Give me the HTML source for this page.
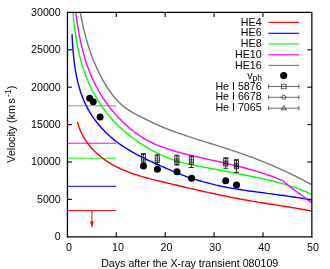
<!DOCTYPE html><html><head><meta charset="utf-8"><style>html,body{margin:0;padding:0;background:#fff}svg{display:block;will-change:transform;opacity:0.999}text{font-family:"Liberation Sans",sans-serif;font-size:10.67px;fill:#000}</style></head><body>
<svg width="330" height="269" viewBox="0 0 330 269">
<rect width="330" height="269" fill="#ffffff"/>
<line x1="67.45" x2="116.1" y1="105.85" y2="105.85" stroke="#909090" stroke-width="1"/>
<line x1="67.45" x2="116.1" y1="143.25" y2="143.25" stroke="#ff00ff" stroke-width="1"/>
<line x1="67.45" x2="116.1" y1="158.20" y2="158.20" stroke="#00ff00" stroke-width="1"/>
<line x1="67.45" x2="116.1" y1="186.30" y2="186.30" stroke="#0000ff" stroke-width="1"/>
<line x1="67.45" x2="116.1" y1="210.60" y2="210.60" stroke="#ff0000" stroke-width="1"/>
<line x1="91.9" x2="91.9" y1="210.6" y2="225.3" stroke="#ff0000" stroke-width="1"/>
<path d="M90.1,221.5 L93.7,221.5 L91.9,228.3 Z" fill="#ff0000"/>
<path d="M77.4,121.8 L77.9,123.8 L78.6,125.8 L79.2,127.8 L80.0,129.7 L80.8,131.5 L81.7,133.4 L82.6,135.2 L83.5,137.0 L84.6,138.7 L85.6,140.4 L86.8,142.0 L87.9,143.6 L89.2,145.2 L90.4,146.7 L91.7,148.2 L93.1,149.7 L94.5,151.1 L95.9,152.5 L97.4,153.9 L98.9,155.2 L100.4,156.5 L102.0,157.7 L103.5,158.9 L105.2,160.1 L106.8,161.2 L108.5,162.3 L110.2,163.3 L111.9,164.3 L113.6,165.3 L115.4,166.2 L117.1,167.2 L118.9,168.0 L120.7,168.9 L122.5,169.7 L124.4,170.5 L126.2,171.2 L128.1,171.9 L130.0,172.6 L131.9,173.3 L133.8,174.0 L135.7,174.6 L137.6,175.2 L139.5,175.8 L141.5,176.4 L143.4,176.9 L145.4,177.5 L147.4,178.0 L149.3,178.6 L151.3,179.1 L153.3,179.6 L155.2,180.1 L157.2,180.6 L159.2,181.0 L161.2,181.5 L163.2,182.0 L165.2,182.5 L167.1,183.0 L169.1,183.4 L171.1,183.9 L173.1,184.4 L175.1,184.8 L177.0,185.3 L179.0,185.8 L181.0,186.3 L183.0,186.7 L184.9,187.2 L186.9,187.6 L188.9,188.1 L190.9,188.6 L192.8,189.0 L194.8,189.5 L196.8,189.9 L198.7,190.4 L200.7,190.8 L202.7,191.3 L204.6,191.7 L206.6,192.1 L208.6,192.6 L210.5,193.0 L212.5,193.4 L214.5,193.8 L216.5,194.3 L218.4,194.7 L220.4,195.1 L222.4,195.5 L224.3,195.9 L226.3,196.3 L228.3,196.7 L230.2,197.1 L232.2,197.5 L234.2,197.9 L236.1,198.2 L238.1,198.6 L240.1,199.0 L242.0,199.3 L244.0,199.7 L246.0,200.0 L248.0,200.4 L249.9,200.7 L251.9,201.1 L253.9,201.4 L255.9,201.7 L257.8,202.1 L259.8,202.4 L261.8,202.7 L263.8,203.0 L265.7,203.3 L267.7,203.7 L269.7,204.0 L271.7,204.3 L273.7,204.6 L275.7,204.9 L277.6,205.2 L279.6,205.5 L281.6,205.9 L283.6,206.2 L285.6,206.5 L287.6,206.8 L289.6,207.1 L291.6,207.5 L293.6,207.8 L295.6,208.1 L297.6,208.5 L299.6,208.8 L301.6,209.2 L303.6,209.5 L305.6,209.9 L307.6,210.3 L309.6,210.6 L311.6,211.0" fill="none" stroke="#ff0000" stroke-width="1.4" stroke-linejoin="round"/>
<path d="M72.0,34.1 L72.1,36.1 L72.2,38.1 L72.3,40.1 L72.4,42.1 L72.6,44.1 L72.7,46.1 L72.9,48.1 L73.0,50.1 L73.2,52.1 L73.4,54.1 L73.6,56.2 L73.8,58.2 L74.0,60.2 L74.2,62.2 L74.5,64.3 L74.8,66.3 L75.1,68.3 L75.4,70.3 L75.8,72.3 L76.1,74.3 L76.5,76.3 L76.9,78.3 L77.4,80.3 L77.8,82.2 L78.3,84.2 L78.9,86.2 L79.4,88.1 L80.0,90.0 L80.6,92.0 L81.3,93.9 L82.0,95.8 L82.7,97.7 L83.4,99.5 L84.2,101.4 L85.1,103.2 L85.9,105.0 L86.8,106.8 L87.8,108.6 L88.7,110.4 L89.8,112.1 L90.8,113.8 L91.9,115.6 L93.0,117.2 L94.2,118.9 L95.4,120.5 L96.6,122.1 L97.9,123.7 L99.2,125.3 L100.5,126.8 L101.9,128.3 L103.3,129.8 L104.7,131.3 L106.1,132.7 L107.6,134.1 L109.0,135.5 L110.5,136.8 L112.1,138.1 L113.6,139.4 L115.2,140.6 L116.7,141.8 L118.3,143.0 L119.9,144.2 L121.6,145.3 L123.2,146.4 L124.9,147.5 L126.6,148.6 L128.3,149.6 L130.0,150.6 L131.7,151.7 L133.4,152.6 L135.2,153.6 L136.9,154.6 L138.7,155.5 L140.5,156.4 L142.3,157.3 L144.1,158.2 L145.9,159.1 L147.7,160.0 L149.5,160.8 L151.4,161.7 L153.2,162.5 L155.0,163.4 L156.9,164.2 L158.8,165.0 L160.6,165.9 L162.5,166.7 L164.4,167.5 L166.2,168.3 L168.1,169.1 L170.0,169.9 L171.9,170.8 L173.8,171.6 L175.7,172.3 L177.6,173.1 L179.5,173.9 L181.4,174.7 L183.3,175.4 L185.2,176.1 L187.1,176.8 L189.0,177.5 L190.9,178.2 L192.9,178.8 L194.8,179.4 L196.7,179.9 L198.6,180.5 L200.6,181.0 L202.5,181.6 L204.4,182.1 L206.4,182.6 L208.3,183.1 L210.3,183.6 L212.2,184.1 L214.2,184.6 L216.1,185.1 L218.1,185.5 L220.0,186.0 L222.0,186.4 L224.0,186.8 L225.9,187.2 L227.9,187.6 L229.9,187.9 L231.8,188.3 L233.8,188.6 L235.8,188.9 L237.7,189.2 L239.7,189.5 L241.7,189.8 L243.7,190.1 L245.7,190.4 L247.6,190.7 L249.6,191.0 L251.6,191.2 L253.6,191.5 L255.6,191.8 L257.6,192.1 L259.6,192.3 L261.6,192.6 L263.6,192.8 L265.5,193.1 L267.5,193.4 L269.5,193.6 L271.5,193.9 L273.5,194.2 L275.5,194.4 L277.5,194.7 L279.5,195.0 L281.5,195.2 L283.5,195.5 L285.5,195.8 L287.5,196.1 L289.5,196.4 L291.6,196.7 L293.6,197.0 L295.6,197.3 L297.6,197.6 L299.6,197.9 L301.6,198.2 L303.6,198.6 L305.6,198.9 L307.6,199.3 L309.6,199.6 L311.6,200.0" fill="none" stroke="#0000ff" stroke-width="1.4" stroke-linejoin="round"/>
<path d="M73.1,12.7 L73.3,14.7 L73.4,16.7 L73.6,18.6 L73.8,20.6 L74.0,22.6 L74.2,24.6 L74.5,26.6 L74.7,28.6 L75.0,30.6 L75.3,32.6 L75.5,34.6 L75.8,36.6 L76.2,38.6 L76.5,40.6 L76.9,42.6 L77.2,44.6 L77.6,46.6 L78.0,48.6 L78.5,50.6 L78.9,52.6 L79.4,54.6 L79.9,56.5 L80.4,58.5 L80.9,60.5 L81.5,62.4 L82.0,64.4 L82.6,66.3 L83.2,68.2 L83.9,70.2 L84.5,72.1 L85.2,74.0 L85.9,75.9 L86.6,77.8 L87.4,79.7 L88.2,81.5 L89.0,83.4 L89.8,85.2 L90.7,87.0 L91.5,88.9 L92.4,90.7 L93.4,92.4 L94.3,94.2 L95.3,96.0 L96.3,97.7 L97.3,99.5 L98.4,101.2 L99.5,102.9 L100.6,104.5 L101.7,106.2 L102.8,107.8 L104.0,109.5 L105.2,111.1 L106.4,112.6 L107.7,114.2 L109.0,115.7 L110.3,117.3 L111.6,118.8 L112.9,120.2 L114.3,121.7 L115.7,123.1 L117.1,124.5 L118.5,125.9 L120.0,127.3 L121.5,128.7 L122.9,130.0 L124.5,131.3 L126.0,132.6 L127.6,133.9 L129.1,135.2 L130.7,136.4 L132.3,137.6 L133.9,138.8 L135.6,140.0 L137.2,141.2 L138.9,142.3 L140.6,143.5 L142.3,144.6 L144.0,145.7 L145.8,146.7 L147.5,147.8 L149.3,148.8 L151.0,149.8 L152.8,150.8 L154.6,151.7 L156.4,152.6 L158.2,153.5 L160.0,154.4 L161.9,155.3 L163.7,156.1 L165.5,156.9 L167.4,157.6 L169.3,158.4 L171.1,159.1 L173.0,159.7 L174.9,160.4 L176.8,161.0 L178.7,161.6 L180.6,162.1 L182.5,162.6 L184.4,163.1 L186.4,163.6 L188.3,164.0 L190.2,164.5 L192.2,164.9 L194.1,165.3 L196.1,165.7 L198.0,166.0 L200.0,166.4 L202.0,166.8 L203.9,167.2 L205.9,167.5 L207.9,167.9 L209.8,168.3 L211.8,168.6 L213.8,169.0 L215.8,169.4 L217.8,169.8 L219.8,170.2 L221.8,170.5 L223.8,170.9 L225.8,171.3 L227.8,171.7 L229.8,172.1 L231.8,172.5 L233.8,172.9 L235.7,173.2 L237.7,173.6 L239.7,174.0 L241.7,174.4 L243.7,174.8 L245.7,175.2 L247.7,175.6 L249.7,176.0 L251.7,176.4 L253.7,176.8 L255.7,177.2 L257.7,177.6 L259.7,178.1 L261.6,178.5 L263.6,178.9 L265.6,179.4 L267.6,179.8 L269.5,180.3 L271.5,180.7 L273.4,181.2 L275.4,181.7 L277.3,182.2 L279.3,182.7 L281.2,183.3 L283.2,183.8 L285.1,184.4 L287.0,185.0 L288.9,185.6 L290.8,186.2 L292.7,186.8 L294.6,187.4 L296.5,188.1 L298.4,188.8 L300.3,189.5 L302.2,190.2 L304.0,191.0 L305.9,191.7 L307.7,192.5 L309.6,193.4 L311.4,194.2" fill="none" stroke="#00ff00" stroke-width="1.4" stroke-linejoin="round"/>
<path d="M75.8,12.7 L76.1,14.7 L76.3,16.7 L76.6,18.7 L76.9,20.7 L77.2,22.7 L77.5,24.6 L77.8,26.6 L78.2,28.6 L78.5,30.6 L78.9,32.6 L79.2,34.6 L79.6,36.6 L80.0,38.6 L80.4,40.5 L80.8,42.5 L81.3,44.5 L81.7,46.5 L82.2,48.4 L82.7,50.4 L83.2,52.3 L83.7,54.3 L84.3,56.2 L84.8,58.2 L85.4,60.1 L86.0,62.0 L86.7,63.9 L87.3,65.8 L88.0,67.7 L88.7,69.6 L89.4,71.5 L90.2,73.4 L90.9,75.2 L91.7,77.1 L92.6,78.9 L93.4,80.7 L94.3,82.6 L95.2,84.4 L96.1,86.2 L97.1,87.9 L98.0,89.7 L99.0,91.5 L100.1,93.2 L101.1,94.9 L102.2,96.6 L103.3,98.3 L104.4,100.0 L105.6,101.7 L106.7,103.3 L107.9,105.0 L109.2,106.6 L110.4,108.2 L111.7,109.7 L112.9,111.3 L114.2,112.9 L115.6,114.4 L116.9,115.9 L118.3,117.4 L119.7,118.8 L121.1,120.3 L122.5,121.7 L124.0,123.1 L125.5,124.5 L126.9,125.8 L128.5,127.2 L130.0,128.5 L131.6,129.7 L133.1,131.0 L134.7,132.2 L136.4,133.4 L138.0,134.5 L139.7,135.7 L141.4,136.8 L143.1,137.8 L144.8,138.9 L146.5,139.9 L148.3,140.8 L150.0,141.7 L151.8,142.6 L153.6,143.5 L155.4,144.3 L157.3,145.1 L159.1,145.8 L161.0,146.6 L162.9,147.3 L164.7,147.9 L166.6,148.6 L168.5,149.2 L170.4,149.8 L172.4,150.4 L174.3,151.0 L176.2,151.6 L178.2,152.1 L180.1,152.6 L182.1,153.2 L184.1,153.7 L186.0,154.2 L188.0,154.6 L190.0,155.1 L192.0,155.6 L193.9,156.1 L195.9,156.5 L197.9,157.0 L199.9,157.4 L201.9,157.9 L203.9,158.3 L205.8,158.8 L207.8,159.2 L209.8,159.6 L211.8,160.1 L213.8,160.5 L215.7,161.0 L217.7,161.4 L219.7,161.8 L221.6,162.3 L223.6,162.7 L225.6,163.2 L227.5,163.6 L229.5,164.1 L231.4,164.6 L233.4,165.0 L235.3,165.5 L237.3,166.0 L239.2,166.5 L241.2,167.0 L243.1,167.5 L245.0,168.0 L247.0,168.5 L248.9,169.1 L250.8,169.6 L252.7,170.2 L254.7,170.7 L256.6,171.3 L258.5,171.9 L260.4,172.5 L262.3,173.1 L264.2,173.7 L266.1,174.4 L268.1,175.0 L270.0,175.7 L271.9,176.4 L273.8,177.1 L275.6,177.8 L277.5,178.6 L279.4,179.3 L281.3,180.1 L283.2,180.9 L284.9,182.4 L286.6,183.9 L288.3,185.3 L290.0,186.7 L291.8,188.1 L293.6,189.5 L295.4,190.8 L297.2,192.1 L299.1,193.4 L300.9,194.7 L302.7,196.0 L304.5,197.4 L306.3,198.7 L308.1,200.1 L309.9,201.5 L311.6,202.9" fill="none" stroke="#ff00ff" stroke-width="1.4" stroke-linejoin="round"/>
<path d="M80.3,12.7 L80.7,14.7 L81.1,16.7 L81.5,18.7 L81.9,20.7 L82.3,22.7 L82.7,24.7 L83.2,26.7 L83.6,28.7 L84.1,30.6 L84.6,32.6 L85.1,34.5 L85.6,36.5 L86.1,38.4 L86.7,40.4 L87.2,42.3 L87.8,44.2 L88.4,46.1 L89.0,48.0 L89.6,49.9 L90.3,51.8 L90.9,53.7 L91.6,55.6 L92.3,57.5 L93.0,59.3 L93.8,61.2 L94.6,63.1 L95.4,64.9 L96.2,66.8 L97.0,68.6 L97.9,70.4 L98.8,72.3 L99.7,74.1 L100.6,75.9 L101.6,77.8 L102.6,79.6 L103.6,81.4 L104.6,83.2 L105.7,85.0 L106.8,86.7 L107.9,88.5 L109.1,90.2 L110.3,91.9 L111.5,93.5 L112.7,95.2 L114.0,96.8 L115.3,98.3 L116.7,99.8 L118.0,101.3 L119.5,102.7 L120.9,104.1 L122.4,105.4 L123.9,106.7 L125.4,107.9 L127.0,109.0 L128.6,110.1 L130.3,111.2 L131.9,112.2 L133.6,113.1 L135.3,114.0 L137.0,114.9 L138.8,115.8 L140.6,116.7 L142.3,117.6 L144.1,118.5 L145.9,119.4 L147.8,120.3 L149.6,121.2 L151.4,122.1 L153.3,123.0 L155.1,123.8 L157.0,124.7 L158.8,125.5 L160.7,126.3 L162.6,127.0 L164.5,127.8 L166.4,128.6 L168.2,129.3 L170.1,130.0 L172.0,130.8 L173.9,131.5 L175.8,132.2 L177.8,132.9 L179.7,133.5 L181.6,134.2 L183.5,134.9 L185.4,135.5 L187.4,136.2 L189.3,136.8 L191.2,137.4 L193.1,138.1 L195.1,138.7 L197.0,139.3 L198.9,139.9 L200.9,140.5 L202.8,141.1 L204.8,141.7 L206.7,142.3 L208.6,142.9 L210.6,143.5 L212.5,144.1 L214.4,144.7 L216.4,145.3 L218.3,145.9 L220.3,146.6 L222.2,147.2 L224.1,147.8 L226.1,148.4 L228.0,149.0 L229.9,149.7 L231.8,150.3 L233.7,150.9 L235.7,151.6 L237.6,152.2 L239.5,152.9 L241.4,153.6 L243.3,154.2 L245.2,154.9 L247.1,155.6 L249.0,156.3 L250.9,157.0 L252.8,157.7 L254.7,158.4 L256.6,159.1 L258.5,159.9 L260.3,160.6 L262.2,161.4 L264.1,162.1 L266.0,162.9 L267.8,163.6 L269.7,164.4 L271.5,165.2 L273.4,166.0 L275.3,166.8 L277.1,167.6 L279.0,168.4 L280.8,169.3 L282.6,170.1 L284.5,170.9 L286.3,171.8 L288.1,172.6 L290.0,173.5 L291.8,174.4 L293.6,175.3 L295.4,176.2 L297.2,177.1 L299.0,178.0 L300.8,178.9 L302.7,179.9 L304.4,180.8 L306.2,181.8 L308.0,182.7 L309.8,183.7 L311.6,184.7" fill="none" stroke="#777777" stroke-width="1.4" stroke-linejoin="round"/>
<g stroke="#000" fill="none">
<line x1="143.4" x2="143.4" y1="153.6" y2="162.8" stroke-width="0.8"/>
<line x1="140.9" x2="145.9" y1="153.6" y2="153.6" stroke-width="0.8"/>
<line x1="140.9" x2="145.9" y1="162.8" y2="162.8" stroke-width="0.8"/>
<rect x="141.3" y="154.4" width="4.2" height="6.7" stroke-width="0.7"/>
<g stroke-opacity="0.35">
<line x1="141.2" x2="145.6" y1="156.6" y2="156.6" stroke-width="0.55"/>
<line x1="141.2" x2="145.6" y1="159.2" y2="159.2" stroke-width="0.45"/>
<circle cx="143.4" cy="158.4" r="2.0" stroke-width="0.5"/>
<path d="M141.2,160.6 L143.4,157.2 L145.6,160.6" stroke-width="0.45"/>
</g></g>
<g stroke="#000" fill="none">
<line x1="157.3" x2="157.3" y1="154.8" y2="164.8" stroke-width="0.8"/>
<line x1="154.8" x2="159.8" y1="154.8" y2="154.8" stroke-width="0.8"/>
<line x1="154.8" x2="159.8" y1="164.8" y2="164.8" stroke-width="0.8"/>
<rect x="155.2" y="155.8" width="4.2" height="6.8" stroke-width="0.7"/>
<g stroke-opacity="0.45">
<line x1="155.1" x2="159.5" y1="158.0" y2="158.0" stroke-width="0.55"/>
<line x1="155.1" x2="159.5" y1="160.7" y2="160.7" stroke-width="0.45"/>
<circle cx="157.3" cy="159.9" r="2.0" stroke-width="0.5"/>
<path d="M155.1,162.1 L157.3,158.7 L159.5,162.1" stroke-width="0.45"/>
</g></g>
<g stroke="#000" fill="none">
<line x1="176.9" x2="176.9" y1="155.3" y2="165.1" stroke-width="0.8"/>
<line x1="174.4" x2="179.4" y1="155.3" y2="155.3" stroke-width="0.8"/>
<line x1="174.4" x2="179.4" y1="165.1" y2="165.1" stroke-width="0.8"/>
<rect x="174.8" y="156.0" width="4.2" height="8.4" stroke-width="0.7"/>
<g stroke-opacity="0.8">
<line x1="174.7" x2="179.1" y1="158.8" y2="158.8" stroke-width="0.55"/>
<line x1="174.7" x2="179.1" y1="162.0" y2="162.0" stroke-width="0.45"/>
<circle cx="176.9" cy="161.0" r="2.0" stroke-width="0.5"/>
<path d="M174.7,163.7 L176.9,159.5 L179.1,163.7" stroke-width="0.45"/>
</g></g>
<g stroke="#000" fill="none">
<line x1="191.3" x2="191.3" y1="156.0" y2="167.5" stroke-width="0.8"/>
<line x1="188.8" x2="193.8" y1="156.0" y2="156.0" stroke-width="0.8"/>
<line x1="188.8" x2="193.8" y1="167.5" y2="167.5" stroke-width="0.8"/>
<rect x="189.2" y="156.9" width="4.2" height="7.5" stroke-width="0.7"/>
<g stroke-opacity="0.7">
<line x1="189.1" x2="193.5" y1="159.4" y2="159.4" stroke-width="0.55"/>
<line x1="189.1" x2="193.5" y1="162.3" y2="162.3" stroke-width="0.45"/>
<circle cx="191.3" cy="161.4" r="2.0" stroke-width="0.5"/>
<path d="M189.1,163.8 L191.3,160.1 L193.5,163.8" stroke-width="0.45"/>
</g></g>
<g stroke="#000" fill="none">
<line x1="225.8" x2="225.8" y1="157.8" y2="168.3" stroke-width="0.8"/>
<line x1="223.3" x2="228.3" y1="157.8" y2="157.8" stroke-width="0.8"/>
<line x1="223.3" x2="228.3" y1="168.3" y2="168.3" stroke-width="0.8"/>
<rect x="223.7" y="158.5" width="4.2" height="7.5" stroke-width="0.7"/>
<g stroke-opacity="1.0">
<line x1="223.6" x2="228.0" y1="161.0" y2="161.0" stroke-width="0.55"/>
<line x1="223.6" x2="228.0" y1="163.9" y2="163.9" stroke-width="0.45"/>
<circle cx="225.8" cy="163.0" r="2.0" stroke-width="0.5"/>
<path d="M223.6,165.4 L225.8,161.7 L228.0,165.4" stroke-width="0.45"/>
</g></g>
<g stroke="#000" fill="none">
<line x1="236.5" x2="236.5" y1="159.6" y2="172.4" stroke-width="0.8"/>
<line x1="234.0" x2="239.0" y1="159.6" y2="159.6" stroke-width="0.8"/>
<line x1="234.0" x2="239.0" y1="172.4" y2="172.4" stroke-width="0.8"/>
<rect x="234.4" y="160.4" width="4.2" height="8.4" stroke-width="0.7"/>
<g stroke-opacity="1.0">
<line x1="234.3" x2="238.7" y1="163.2" y2="163.2" stroke-width="0.55"/>
<line x1="234.3" x2="238.7" y1="166.4" y2="166.4" stroke-width="0.45"/>
<circle cx="236.5" cy="165.4" r="2.0" stroke-width="0.5"/>
<path d="M234.3,168.1 L236.5,163.9 L238.7,168.1" stroke-width="0.45"/>
</g></g>
<circle cx="89.7" cy="98.3" r="3.5" fill="#000"/>
<circle cx="93.2" cy="101.8" r="3.5" fill="#000"/>
<circle cx="100.1" cy="117.0" r="3.5" fill="#000"/>
<circle cx="143.5" cy="165.9" r="3.5" fill="#000"/>
<circle cx="157.4" cy="169.3" r="3.5" fill="#000"/>
<circle cx="177.0" cy="171.8" r="3.5" fill="#000"/>
<circle cx="191.6" cy="178.2" r="3.5" fill="#000"/>
<circle cx="225.7" cy="180.7" r="3.5" fill="#000"/>
<circle cx="236.5" cy="185.1" r="3.5" fill="#000"/>
<path d="M67.45,237.55 L67.45,12.45 L311.85,12.45 L311.85,237.55" fill="none" stroke="#000" stroke-width="1.25" stroke-linejoin="miter"/>
<line x1="66.83" x2="312.47" y1="236.9" y2="236.9" stroke="#000" stroke-width="1.3"/>
<text x="68.95" y="250.7" text-anchor="middle">0</text>
<line x1="116.3" x2="116.3" y1="236.9" y2="232.20000000000002" stroke="#000" stroke-width="1.1"/>
<line x1="116.3" x2="116.3" y1="12.45" y2="16.95" stroke="#000" stroke-width="1.1"/>
<text x="117.93" y="250.7" text-anchor="middle">10</text>
<line x1="165.2" x2="165.2" y1="236.9" y2="232.20000000000002" stroke="#000" stroke-width="1.1"/>
<line x1="165.2" x2="165.2" y1="12.45" y2="16.95" stroke="#000" stroke-width="1.1"/>
<text x="166.41" y="250.7" text-anchor="middle">20</text>
<line x1="214.1" x2="214.1" y1="236.9" y2="232.20000000000002" stroke="#000" stroke-width="1.1"/>
<line x1="214.1" x2="214.1" y1="12.45" y2="16.95" stroke="#000" stroke-width="1.1"/>
<text x="215.19" y="250.7" text-anchor="middle">30</text>
<line x1="263.0" x2="263.0" y1="236.9" y2="232.20000000000002" stroke="#000" stroke-width="1.1"/>
<line x1="263.0" x2="263.0" y1="12.45" y2="16.95" stroke="#000" stroke-width="1.1"/>
<text x="264.17" y="250.7" text-anchor="middle">40</text>
<text x="313.05" y="250.7" text-anchor="middle">50</text>
<text x="60.7" y="240.1" text-anchor="end">0</text>
<line x1="67.45" x2="71.95" y1="199.4" y2="199.4" stroke="#000" stroke-width="1.1"/>
<line x1="311.85" x2="307.35" y1="199.4" y2="199.4" stroke="#000" stroke-width="1.1"/>
<text x="60.7" y="202.7" text-anchor="end">5000</text>
<line x1="67.45" x2="71.95" y1="162.0" y2="162.0" stroke="#000" stroke-width="1.1"/>
<line x1="311.85" x2="307.35" y1="162.0" y2="162.0" stroke="#000" stroke-width="1.1"/>
<text x="60.7" y="165.3" text-anchor="end">10000</text>
<line x1="67.45" x2="71.95" y1="124.6" y2="124.6" stroke="#000" stroke-width="1.1"/>
<line x1="311.85" x2="307.35" y1="124.6" y2="124.6" stroke="#000" stroke-width="1.1"/>
<text x="60.7" y="127.9" text-anchor="end">15000</text>
<line x1="67.45" x2="71.95" y1="87.2" y2="87.2" stroke="#000" stroke-width="1.1"/>
<line x1="311.85" x2="307.35" y1="87.2" y2="87.2" stroke="#000" stroke-width="1.1"/>
<text x="60.7" y="90.6" text-anchor="end">20000</text>
<line x1="67.45" x2="71.95" y1="49.8" y2="49.8" stroke="#000" stroke-width="1.1"/>
<line x1="311.85" x2="307.35" y1="49.8" y2="49.8" stroke="#000" stroke-width="1.1"/>
<text x="60.7" y="53.2" text-anchor="end">25000</text>
<text x="60.7" y="15.8" text-anchor="end">30000</text>
<text x="189.7" y="267.0" text-anchor="middle">Days after the X-ray transient 080109</text>
<text transform="translate(15.4,124.2) rotate(-90)" text-anchor="middle">Velocity (km<tspan dx="-1.3"> s</tspan><tspan dx="1.3" dy="-4.5" font-size="8.5px">-1</tspan><tspan dy="4.5">)</tspan></text>
<text x="261.6" y="25.70" text-anchor="end">HE4</text>
<line x1="268.4" x2="299.1" y1="22.4" y2="22.4" stroke="#ff0000" stroke-width="1.15"/>
<text x="261.6" y="36.35" text-anchor="end">HE6</text>
<line x1="268.4" x2="299.1" y1="33.3" y2="33.3" stroke="#0000ff" stroke-width="1.15"/>
<text x="261.6" y="47.00" text-anchor="end">HE8</text>
<line x1="268.4" x2="299.1" y1="43.9" y2="43.9" stroke="#00ff00" stroke-width="1.15"/>
<text x="261.6" y="57.70" text-anchor="end">HE10</text>
<line x1="268.4" x2="299.1" y1="54.8" y2="54.8" stroke="#ff00ff" stroke-width="1.15"/>
<text x="261.6" y="68.75" text-anchor="end">HE16</text>
<line x1="268.4" x2="299.1" y1="65.4" y2="65.4" stroke="#808080" stroke-width="1.15"/>
<text x="262.0" y="78.5" text-anchor="end">v<tspan dy="2.7" font-size="8.5px">ph</tspan></text>
<circle cx="283.7" cy="75.6" r="3.55" fill="#000"/>
<text x="261.6" y="89.65" text-anchor="end">He I 5876</text>
<g stroke="#000" stroke-width="0.6" fill="none">
<line x1="268.4" x2="299.1" y1="86.5" y2="86.5"/>
<line x1="268.6" x2="268.6" y1="84.3" y2="88.7"/>
<line x1="298.9" x2="298.9" y1="84.3" y2="88.7"/>
<rect x="281.5" y="84.2" width="4.6" height="4.6"/>
</g>
<text x="261.6" y="100.30" text-anchor="end">He I 6678</text>
<g stroke="#000" stroke-width="0.6" fill="none">
<line x1="268.4" x2="299.1" y1="97.3" y2="97.3"/>
<line x1="268.6" x2="268.6" y1="95.1" y2="99.5"/>
<line x1="298.9" x2="298.9" y1="95.1" y2="99.5"/>
<circle cx="283.8" cy="97.3" r="2.1"/>
</g>
<text x="261.6" y="110.90" text-anchor="end">He I 7065</text>
<g stroke="#000" stroke-width="0.6" fill="none">
<line x1="268.4" x2="299.1" y1="108.2" y2="108.2"/>
<line x1="268.6" x2="268.6" y1="106.0" y2="110.4"/>
<line x1="298.9" x2="298.9" y1="106.0" y2="110.4"/>
<path d="M281.3,109.8 L286.3,109.8 L283.8,105.4 Z"/>
</g>
</svg></body></html>
